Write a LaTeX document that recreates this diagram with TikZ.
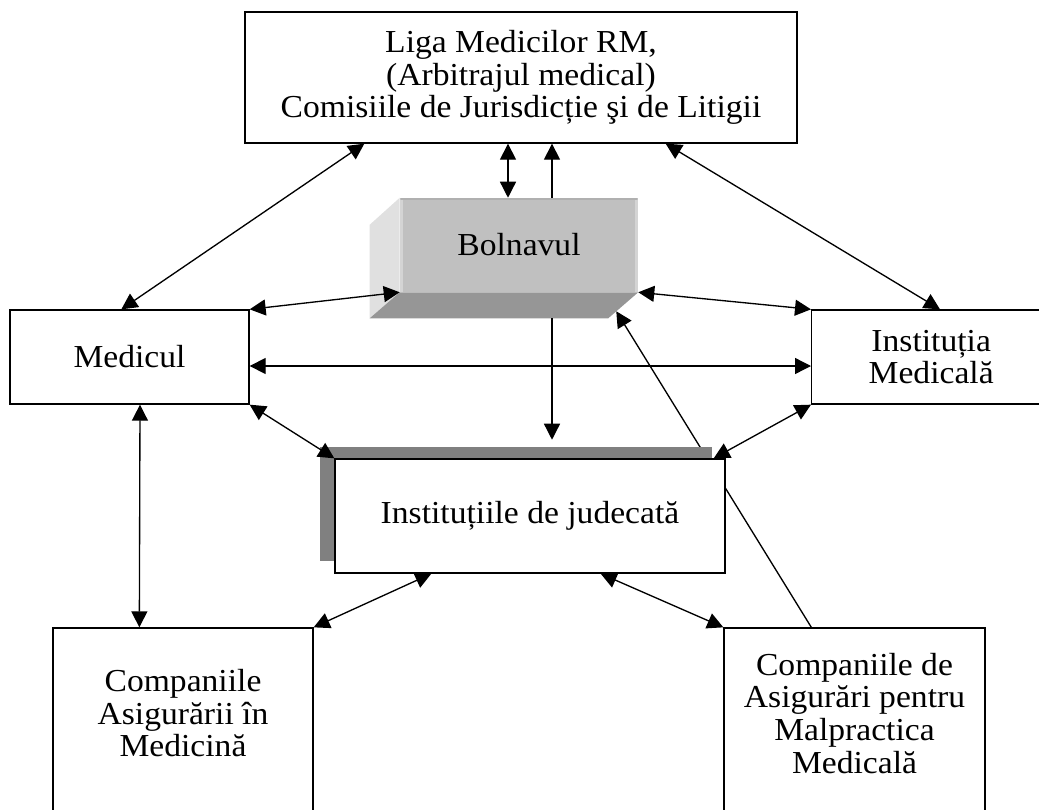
\documentclass[tikz,border=0pt]{standalone}
\usepackage{fontspec}
\setmainfont{Liberation Serif}[FakeStretch=1.05]
\usetikzlibrary{arrows.meta,calc}
\definecolor{facefront}{HTML}{C0C0C0}
\definecolor{faceside}{HTML}{E0E0E0}
\definecolor{facebottom}{HTML}{969696}
\definecolor{edgedark}{HTML}{B0B0B0}
\definecolor{edgelight}{HTML}{D4D4D4}
\definecolor{shadowgray}{HTML}{808080}

\begin{document}
\begin{tikzpicture}[x=0.75pt,y=-0.75pt,
  font=\fontsize{24}{24.5}\selectfont,
  sz/.style 2 args={minimum width=#1*0.75pt, minimum height=#2*0.75pt},
  box/.style={draw=black, line width=1pt, fill=white, align=center, inner sep=0pt},
  lbl/.style={align=center, inner sep=0pt},
  tip/.tip={Triangle[length=12pt,width=12pt]},
  link/.style={line width=1pt, -tip},
  dlink/.style={line width=1pt, tip-tip},
]
\useasboundingbox (0,0) rectangle (1039,810);

% main boxes
\node[box, sz={552}{131}] (liga) at (521,77.5)
  {Liga Medicilor RM,\\(Arbitrajul medical)\\Comisiile de Jurisdicție şi de Litigii};
\node[box, sz={239}{94}] (med) at (129.5,357) {Medicul};
\node[box, sz={239}{94}, anchor=west] (inst) at (811,357) {Instituția\\Medicală};

% bottom boxes, running off the page
\node[box, sz={260}{202}] (cam) at (183,729) {};
\node[lbl] (camtxt) at ($(cam.north)+(0,86)$) {Companiile\\Asigurării în\\Medicină};
\node[box, sz={261}{202}] (cmal) at (854.5,729) {};
\node[lbl] (cmaltxt) at ($(cmal.north)+(0,86)$) {Companiile de\\Asigurări pentru\\Malpractica\\Medicală};

% the patient as a 3-D block
\node[fill=facefront, sz={238}{94}, inner sep=0pt] (bol) at (519,245) {Bolnavul};
\fill[faceside] (bol.north west) -- (bol.south west) -- ++(-30,26)
  -- ($(bol.north west)+(-30,27)$) -- cycle;
\fill[facebottom] (bol.south west) -- (bol.south east) -- ++(-30,26)
  -- ($(bol.south west)+(-30,26)$) -- cycle;
\draw[edgedark, line width=1.5pt] ($(bol.north west)+(1,1)$) -- ($(bol.north east)+(-1,1)$);
\draw[edgelight, line width=2pt] ($(bol.north west)+(2,2)$) -- ($(bol.south west)+(2,0)$);
\draw[edgelight, line width=2pt] ($(bol.north east)+(-2,2)$) -- ($(bol.south east)+(-2,0)$);
\coordinate (bolcorner) at ($(bol.south east)+(-22,19)$);

% line from the malpractice insurers runs behind the courts box
\draw[link] ($(cmal.north west)+(88,0)$) -- (bolcorner);

% courts box with its shadow
\node[fill=shadowgray, sz={392}{114}, inner sep=0pt] (judsh) at (516,504) {};
\node[box, sz={390}{114}] (jud) at (530,516) {Instituțiile de judecată};

% connectors
\draw[dlink] ($(liga.south west)+(120,0)$) -- ($(med.north west)+(112,0)$);
\draw[dlink] ($(liga.south east)+(-132,0)$) -- ($(inst.north west)+(129,0)$);
\draw[dlink] ($(liga.south)+(-13,0)$) -- ($(bol.north)+(-11,0)$);
\draw[link] ($(bol.north)+(33,0)$) -- ($(liga.south)+(31,0)$);
\draw[dlink] (med.north east) -- (bol.south west);
\draw[dlink] (bol.south east) -- (inst.north west);
\draw[dlink] ($(med.east)+(0,9)$) -- ($(inst.west)+(0,9)$);
\draw[link] ($(bol.south)+(33,26)$) -- ($(judsh.north)+(36,-7)$);
\draw[dlink] (med.south east) -- (jud.north west);
\draw[dlink] (inst.south west) -- ($(jud.north east)+(-12,0)$);
\draw[dlink] ($(med.south)+(10.5,0)$) -- ($(cam.north west)+(87,0)$);
\draw[dlink] ($(jud.south west)+(97,0)$) -- (cam.north east);
\draw[dlink] ($(jud.south east)+(-125,0)$) -- (cmal.north west);
\end{tikzpicture}
\end{document}
